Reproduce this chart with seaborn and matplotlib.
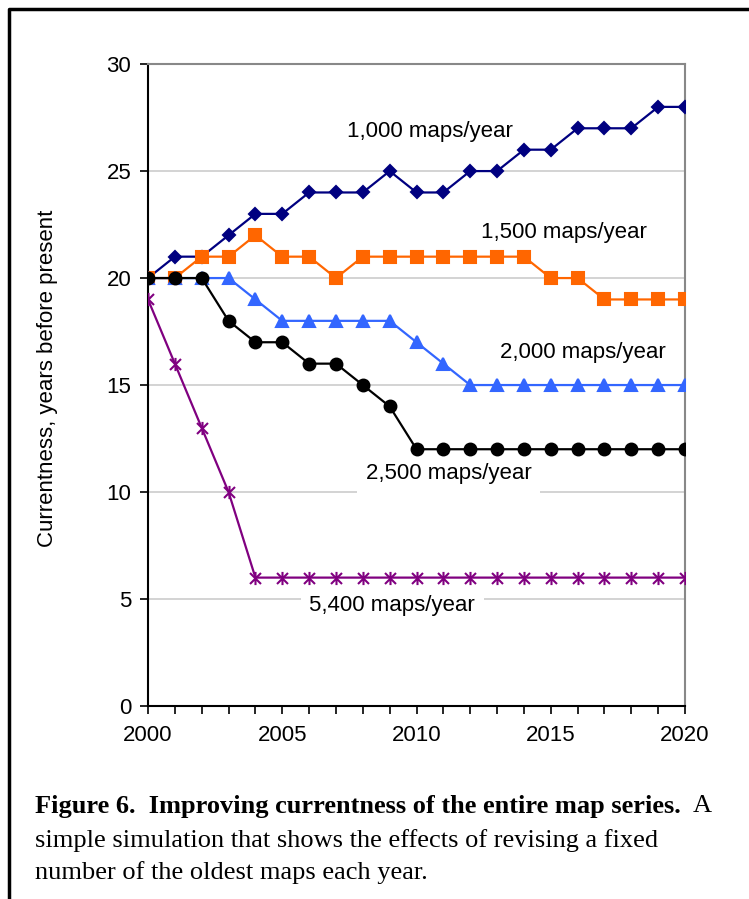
import numpy as np
import pandas as pd
import seaborn as sns
import matplotlib.pyplot as plt
from matplotlib.lines import Line2D
from matplotlib.path import Path

years = list(range(2000, 2021))
maps_1000 = [20, 21, 21, 22, 23, 23, 24, 24, 24, 25, 24, 24, 25, 25, 26, 26, 27, 27, 27, 28, 28]
maps_1500 = [20, 20, 21, 21, 22, 21, 21, 20, 21, 21, 21, 21, 21, 21, 21, 20, 20, 19, 19, 19, 19]
maps_2000 = [20, 20, 20, 20, 19, 18, 18, 18, 18, 18, 17, 16, 15, 15, 15, 15, 15, 15, 15, 15, 15]
maps_2500 = [20, 20, 20, 18, 17, 17, 16, 16, 15, 14, 12, 12, 12, 12, 12, 12, 12, 12, 12, 12, 12]
maps_5400 = [19, 16, 13, 10, 6, 6, 6, 6, 6, 6, 6, 6, 6, 6, 6, 6, 6, 6, 6, 6, 6]

series_names = ["1,000 maps/year", "1,500 maps/year", "2,000 maps/year",
                "2,500 maps/year", "5,400 maps/year"]
series_values = [maps_1000, maps_1500, maps_2000, maps_2500, maps_5400]

frames = []
for name, vals in zip(series_names, series_values):
    frames.append(pd.DataFrame({"year": years, "currentness": vals, "series": name}))
df = pd.concat(frames, ignore_index=True)

# excel style star: x with a vertical bar
star = Path([(-1, -1), (1, 1), (-1, 1), (1, -1), (0, -1.2), (0, 1.2)],
            [Path.MOVETO, Path.LINETO, Path.MOVETO, Path.LINETO, Path.MOVETO, Path.LINETO])

colors = {
    "1,000 maps/year": "#000080",
    "1,500 maps/year": "#FF6600",
    "2,000 maps/year": "#3366FF",
    "2,500 maps/year": "#000000",
    "5,400 maps/year": "#800080",
}
markers = {
    "1,000 maps/year": "D",
    "1,500 maps/year": "s",
    "2,000 maps/year": "^",
    "2,500 maps/year": "o",
    "5,400 maps/year": star,
}
msizes = {
    "1,000 maps/year": 6.5,
    "1,500 maps/year": 8,
    "2,000 maps/year": 8,
    "2,500 maps/year": 8.5,
    "5,400 maps/year": 9.5,
}

sns.set_theme(style="white")
plt.rcParams['font.family'] = ['Liberation Sans', 'DejaVu Sans']
plt.rcParams['text.color'] = 'black'

fig = plt.figure(figsize=(7.49, 8.99), dpi=100)
ax = fig.add_axes([0.1976, 0.2147, 0.717, 0.714])

for name in series_names:
    sub = df[df["series"] == name]
    sns.lineplot(data=sub, x="year", y="currentness", color=colors[name],
                 marker=markers[name], markersize=msizes[name],
                 markeredgecolor=colors[name], markerfacecolor=colors[name],
                 markeredgewidth=1.5, linewidth=1.6, ax=ax, legend=False, zorder=3)

ax.set_xlim(2000, 2020)
ax.set_ylim(0, 30)
ax.set_xticks(range(2000, 2021, 5))
ax.set_xticks(range(2000, 2021), minor=True)
ax.set_yticks(range(0, 31, 5))
ax.grid(axis="y", color="#cccccc", linewidth=1.2, zorder=0)
ax.set_axisbelow(True)

ax.tick_params(axis="both", which="major", direction="out", length=6, width=1.2,
               color="black", labelsize=16, labelcolor="black", pad=8,
               bottom=True, left=True)
ax.tick_params(axis="x", which="minor", direction="out", length=6, width=1.2,
               color="black", bottom=True)
ax.tick_params(axis="y", pad=6)

for side in ["left", "bottom"]:
    ax.spines[side].set_color("black")
    ax.spines[side].set_linewidth(1.5)
for side in ["top", "right"]:
    ax.spines[side].set_color("#888888")
    ax.spines[side].set_linewidth(1.5)

ax.set_xlabel("")
ax.set_ylabel("Currentness, years before present", fontsize=16, color="black")
ax.yaxis.set_label_coords(-0.168, 0.51)

# series labels, white boxes cover the gridlines as in the original
label_pos = {
    "1,000 maps/year": (2010.5, 26.85),
    "1,500 maps/year": (2015.5, 22.15),
    "2,000 maps/year": (2016.2, 16.5),
    "2,500 maps/year": (2011.2, 10.85),
    "5,400 maps/year": (2009.1, 4.7),
}
for name, (lx, ly) in label_pos.items():
    ax.text(lx, ly, name, fontsize=16, ha="center", va="center", color="black",
            zorder=2, bbox=dict(facecolor="white", edgecolor="none", pad=6))

# frame around the figure (left and top edges)
fig.add_artist(Line2D([0.012, 0.012, 1.0], [0.0, 0.9895, 0.9895],
                      transform=fig.transFigure, color="black", linewidth=2.5))

# caption
serif = ['Liberation Serif', 'DejaVu Serif']
cap_size = 19
t1 = fig.text(35 / 749, 1 - 806 / 899, "Figure 6.  Improving currentness of the entire map series.",
              fontsize=cap_size, fontweight="bold", family=serif, va="center", ha="left",
              color="black")
fig.canvas.draw()
bb = t1.get_window_extent().transformed(fig.transFigure.inverted())
fig.text(bb.x1 + 0.016, 1 - 806 / 899, "A", fontsize=cap_size, family=serif, va="center",
         ha="left", color="black")
fig.text(35 / 749, 1 - 841 / 899, "simple simulation that shows the effects of revising a fixed",
         fontsize=cap_size, family=serif, va="center", ha="left", color="black")
fig.text(35 / 749, 1 - 873 / 899, "number of the oldest maps each year.",
         fontsize=cap_size, family=serif, va="center", ha="left", color="black")

fig.savefig("out.png", dpi=100)
